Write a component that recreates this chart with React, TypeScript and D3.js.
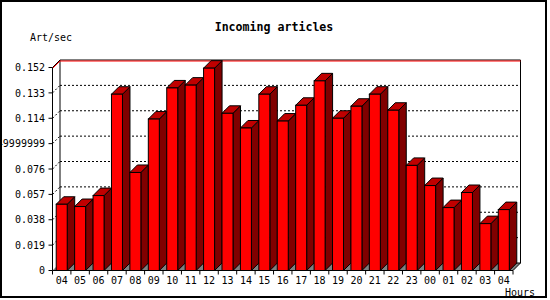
import React from "react";
import * as d3 from "d3";

const hours = ["04","05","06","07","08","09","10","11","12","13","14","15","16","17","18","19","20","21","22","23","00","01","02","03","04"];
const values = [0.0496,0.0479,0.0561,0.1320,0.0734,0.1134,0.1367,0.1388,0.1515,0.1177,0.1067,0.1320,0.1119,0.1237,0.1420,0.1140,0.1230,0.1320,0.1200,0.0787,0.0636,0.0471,0.0584,0.0351,0.0456];
const yTicks = [0,0.019,0.038,0.057,0.076,0.095,0.114,0.133,0.152];
const yTickLabels = ["0","0.019","0.038","0.057","0.076","0.0949999999","0.114","0.133","0.152"];
const title = "Incoming articles";
const yTitle = "Art/sec";
const xTitle = "Hours";

const W = 550, H = 300;
const X0 = 52.5, X1 = 513, Y0 = 270.5, YT = 67.5, D = 7.5;
const FONT = "'DejaVu Sans Mono', monospace";

export default function App() {
  const y = d3.scaleLinear().domain([0, 0.152]).range([Y0, YT]);
  const x = d3.scaleBand<number>().domain(hours.map((_, i) => i)).range([X0, X1]).padding(0);
  const bw = x.bandwidth();
  const fw = 11;
  const pts = (a: number[][]) => a.map(p => p.join(",")).join(" ");

  return (
    <svg width={W} height={H} style={{ position: "fixed", left: 0, top: 0, background: "#fff" }} fontFamily={FONT}>
      <rect x={1} y={1} width={545} height={296} fill="#fff" stroke="#000" strokeWidth={2} />
      <text x={274} y={30.5} textAnchor="middle" fontSize={11.6} fontWeight="bold">{title}</text>
      <text x={30} y={40.5} fontSize={10}>{yTitle}</text>
      <text x={505} y={296} fontSize={10}>{xTitle}</text>

      {/* floor */}
      <polygon points={pts([[X0, Y0], [X0 + D, Y0 - D], [X1 + D, Y0 - D], [X1, Y0]])} fill="#808080" stroke="none" />

      {/* grid lines on back plane */}
      {yTicks.slice(1, -1).map((t, i) => (
        <g key={i}>
          <line x1={X0 + D} x2={X1 + D} y1={y(t) - D} y2={y(t) - D} stroke="#000" strokeDasharray="2,2" />
          <line x1={X0} x2={X0 + D} y1={y(t)} y2={y(t) - D} stroke="#000" strokeDasharray="2,2" />
        </g>
      ))}

      {/* back plane edges */}
      <line x1={X0 + D} x2={X0 + D} y1={YT - D} y2={Y0 - D} stroke="#000" />
      <line x1={X1 + D} x2={X1 + D} y1={YT - D} y2={Y0 - D} stroke="#000" />
      <line x1={X0 + D} x2={X1 + D} y1={Y0 - D} y2={Y0 - D} stroke="#000" />
      <line x1={X0 + D} x2={X1 + D} y1={YT - D} y2={YT - D} stroke="#000" />
      <line x1={X0 + D} x2={X1 + D} y1={YT - D + 1} y2={YT - D + 1} stroke="#f00" />
      <line x1={X0} x2={X0 + D} y1={YT} y2={YT - D} stroke="#000" />
      <line x1={X0} x2={X0 + D} y1={YT + 1} y2={YT - D + 1} stroke="#f00" />

      {/* bars */}
      {values.map((v, i) => {
        const cx = (x(i) as number) + bw / 2;
        const l = cx - fw / 2, r = cx + fw / 2;
        const t = y(v);
        return (
          <g key={i} stroke="#000" strokeWidth={1}>
            <polygon points={pts([[r, t], [r + D, t - D], [r + D, Y0 - D], [r, Y0]])} fill="#800000" />
            <polygon points={pts([[l, t], [l + D, t - D], [r + D, t - D], [r, t]])} fill="#c00000" />
            <rect x={l} y={t} width={fw} height={Y0 - t} fill="#ff0000" />
          </g>
        );
      })}

      {/* front axes */}
      <line x1={X0} x2={X0} y1={YT} y2={Y0} stroke="#000" />
      <line x1={X0} x2={X1} y1={Y0} y2={Y0} stroke="#000" />
      <line x1={X1} x2={X1 + D} y1={Y0} y2={Y0 - D} stroke="#000" />

      {/* y ticks */}
      {yTicks.map((t, i) => (
        <g key={i}>
          <line x1={X0 - 4} x2={X0} y1={y(t)} y2={y(t)} stroke="#000" />
          <text x={45} y={y(t) + 3.7} textAnchor="end" fontSize={10}>{yTickLabels[i]}</text>
        </g>
      ))}

      {/* x ticks */}
      {hours.map((h, i) => {
        const x0 = x(i) as number;
        return (
          <g key={i}>
            <line x1={x0} x2={x0} y1={Y0} y2={Y0 + 4} stroke="#000" />
            <text x={x0 + bw / 2} y={283.5} textAnchor="middle" fontSize={10}>{h}</text>
          </g>
        );
      })}
      <line x1={X1} x2={X1} y1={Y0} y2={Y0 + 4} stroke="#000" />
    </svg>
  );
}
